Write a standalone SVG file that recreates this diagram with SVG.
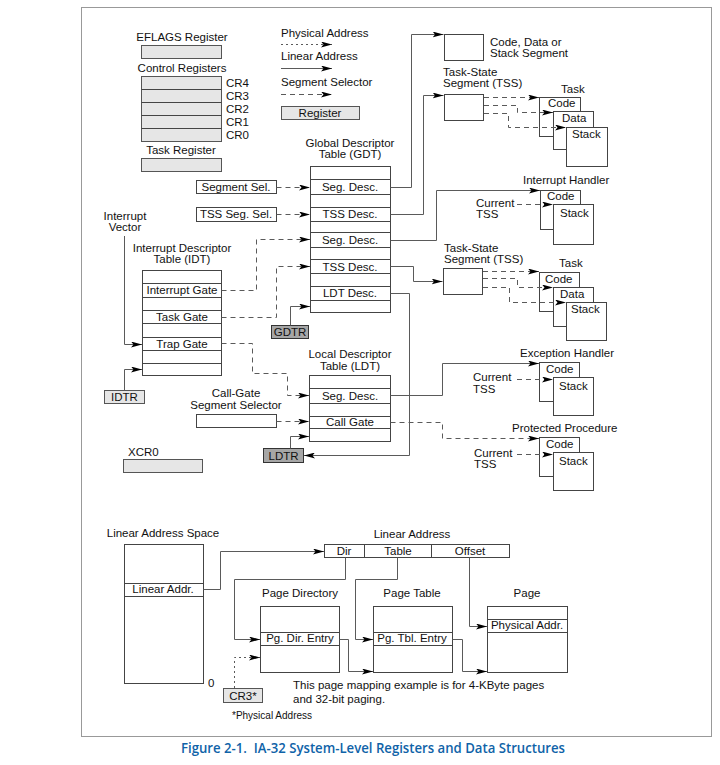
<svg xmlns="http://www.w3.org/2000/svg" width="720" height="765" viewBox="0 0 720 765">
<defs>
<style>
text{font-family:"Liberation Sans",Arial,sans-serif;font-size:11.5px;fill:#111}
.m{text-anchor:middle}
.sm{font-size:10px}
.box{fill:#fff;stroke:#444;stroke-width:1}
.reg{fill:#e6e6e6;stroke:#555;stroke-width:1}
.dreg{fill:#a6a6a6;stroke:#333;stroke-width:1}
.row{fill:none;stroke:#444;stroke-width:1}
.ln{fill:none;stroke:#5a5a5a;stroke-width:1;marker-end:url(#ah)}
.nl{fill:none;stroke:#5a5a5a;stroke-width:1}
.ds{stroke-dasharray:5 4}
.dt{stroke-dasharray:2 3}
.cap{font-family:"Open Sans","Noto Sans",sans-serif;font-size:14px;font-weight:600;fill:#0f63a8}
</style>
<marker id="ah" viewBox="0 0 11 6" refX="11" refY="3" markerWidth="11" markerHeight="6" orient="auto" markerUnits="userSpaceOnUse">
<path d="M0,0 L11,3 L0,6 L2.5,3 z" fill="#000"/>
</marker>
</defs>
<rect x="81.5" y="7.5" width="630" height="729" fill="#fff" stroke="#999" stroke-width="1"/>

<g id="eflags">
<text x="182" y="41" class="m">EFLAGS Register</text>
<rect x="141.5" y="45.5" width="80" height="13" class="reg"/>
</g>
<g id="control-registers">
<text x="182" y="72" class="m">Control Registers</text>
<rect x="141.5" y="76.5" width="80" height="65" class="reg"/>
<path d="M141.5,89.5H221.5M141.5,102.5H221.5M141.5,115.5H221.5M141.5,128.5H221.5" class="row" stroke="#555"/>
<text x="226" y="87">CR4</text>
<text x="226" y="100">CR3</text>
<text x="226" y="113">CR2</text>
<text x="226" y="126">CR1</text>
<text x="226" y="139">CR0</text>
</g>
<g id="task-register">
<text x="181" y="154" class="m">Task Register</text>
<rect x="141.5" y="158.5" width="80" height="13" class="reg"/>
</g>

<g id="legend">
<text x="281" y="37">Physical Address</text>
<text x="281" y="60">Linear Address</text>
<text x="281" y="86">Segment Selector</text>
<rect x="281.5" y="106.5" width="78" height="13" class="reg"/>
<text x="320" y="117" class="m">Register</text>
</g>

<g id="code-data-stack-segment">
<rect x="444.5" y="34.5" width="39" height="26" class="box"/>
<text x="490" y="46">Code, Data or</text>
<text x="490" y="57">Stack Segment</text>
</g>

<g id="tss1" transform="translate(444,94)">
<text x="-1" y="-18">Task-State</text>
<text x="-1" y="-7">Segment (TSS)</text>
<rect x="0.5" y="0.5" width="39" height="26" class="box"/>
</g>
<g id="task1" transform="translate(444,94)">
<text x="117" y="-1">Task</text>
<rect x="95.5" y="3.5" width="41" height="39" class="box"/>
<text x="104" y="13">Code</text>
<rect x="109.5" y="17.5" width="40" height="38" class="box"/>
<text x="118" y="28">Data</text>
<rect x="122.5" y="33.5" width="41" height="39" class="box"/>
<text x="128" y="44">Stack</text>
</g>

<g id="gdt">
<text x="350" y="147" class="m">Global Descriptor</text>
<text x="350" y="158" class="m">Table (GDT)</text>
<rect x="310.5" y="166.5" width="80" height="146" class="box"/>
<path d="M310.5,179.5H390.5M310.5,194.5H390.5M310.5,207.5H390.5M310.5,221.5H390.5M310.5,232.5H390.5M310.5,247.5H390.5M310.5,259.5H390.5M310.5,273.5H390.5M310.5,286.5H390.5M310.5,300.5H390.5" class="row"/>
<text x="350" y="191" class="m">Seg. Desc.</text>
<text x="350" y="218" class="m">TSS Desc.</text>
<text x="350" y="244" class="m">Seg. Desc.</text>
<text x="350" y="270.5" class="m">TSS Desc.</text>
<text x="350" y="297" class="m">LDT Desc.</text>
</g>

<g id="segment-sel">
<rect x="196.5" y="180.5" width="80" height="13" class="box"/>
<text x="236" y="191" class="m">Segment Sel.</text>
</g>
<g id="tss-seg-sel">
<rect x="196.5" y="207.5" width="80" height="14" class="box"/>
<text x="236" y="218" class="m">TSS Seg. Sel.</text>
</g>

<g id="interrupt-vector">
<text x="125" y="220" class="m">Interrupt</text>
<text x="125" y="231" class="m">Vector</text>
</g>

<g id="idt">
<text x="182" y="252" class="m">Interrupt Descriptor</text>
<text x="182" y="263" class="m">Table (IDT)</text>
<rect x="142.5" y="270.5" width="79" height="105" class="box"/>
<path d="M142.5,283.5H221.5M142.5,297.5H221.5M142.5,310.5H221.5M142.5,323.5H221.5M142.5,337.5H221.5M142.5,350.5H221.5M142.5,363.5H221.5" class="row"/>
<text x="182" y="294" class="m">Interrupt Gate</text>
<text x="182" y="321" class="m">Task Gate</text>
<text x="182" y="348" class="m">Trap Gate</text>
</g>

<g id="idtr">
<rect x="104.5" y="390.5" width="40" height="13" class="reg" stroke="#333"/>
<text x="124.5" y="401" class="m">IDTR</text>
</g>
<g id="gdtr">
<rect x="271.5" y="325.5" width="37" height="13" class="dreg"/>
<text x="290" y="336" class="m">GDTR</text>
</g>

<g id="ldt">
<text x="350" y="358" class="m">Local Descriptor</text>
<text x="350" y="370" class="m">Table (LDT)</text>
<rect x="309.5" y="375.5" width="81" height="66" class="box"/>
<path d="M309.5,388.5H390.5M309.5,403.5H390.5M309.5,416.5H390.5M309.5,428.5H390.5" class="row"/>
<text x="350" y="400" class="m">Seg. Desc.</text>
<text x="350" y="426" class="m">Call Gate</text>
</g>

<g id="call-gate-selector">
<text x="236" y="397" class="m">Call-Gate</text>
<text x="236" y="409" class="m">Segment Selector</text>
<rect x="196.5" y="414.5" width="80" height="13" class="box"/>
</g>

<g id="ldtr">
<rect x="263.5" y="448.5" width="40" height="14" class="dreg"/>
<text x="283.5" y="459.5" class="m">LDTR</text>
</g>

<g id="xcr0">
<text x="128" y="456">XCR0</text>
<rect x="123.5" y="459.5" width="79" height="13" class="reg"/>
</g>

<g id="interrupt-handler">
<text x="523" y="184">Interrupt Handler</text>
<rect x="540.5" y="190.5" width="40" height="39" class="box"/>
<text x="547" y="200">Code</text>
<rect x="553.5" y="204.5" width="40" height="40" class="box"/>
<text x="560" y="217">Stack</text>
<text x="476" y="207">Current</text>
<text x="476" y="218">TSS</text>
</g>

<g id="tss2" transform="translate(443,268)">
<text x="1" y="-16">Task-State</text>
<text x="1" y="-5">Segment (TSS)</text>
<rect x="0.5" y="0.5" width="39" height="26" class="box"/>
</g>
<g id="task2" transform="translate(443,268)">
<text x="116" y="-1">Task</text>
<rect x="96.5" y="4.5" width="40" height="39" class="box"/>
<text x="102" y="15">Code</text>
<rect x="110.5" y="19.5" width="40" height="39" class="box"/>
<text x="117" y="30">Data</text>
<rect x="123.5" y="34.5" width="40" height="38" class="box"/>
<text x="128" y="45">Stack</text>
</g>

<g id="exception-handler">
<text x="520" y="357">Exception Handler</text>
<rect x="539.5" y="362.5" width="40" height="39" class="box"/>
<text x="546" y="373">Code</text>
<rect x="553.5" y="377.5" width="40" height="38" class="box"/>
<text x="559" y="390">Stack</text>
<text x="473" y="381">Current</text>
<text x="473" y="393">TSS</text>
</g>

<g id="protected-procedure">
<text x="512" y="432">Protected Procedure</text>
<rect x="539.5" y="437.5" width="40" height="39" class="box"/>
<text x="546" y="448">Code</text>
<rect x="553.5" y="452.5" width="40" height="38" class="box"/>
<text x="559" y="465">Stack</text>
<text x="474" y="457">Current</text>
<text x="474" y="468">TSS</text>
</g>

<g id="linear-address-space">
<text x="163" y="537" class="m">Linear Address Space</text>
<rect x="124.5" y="544.5" width="79" height="139" class="box"/>
<path d="M124.5,583.5H203.5M124.5,596.5H203.5" class="row"/>
<text x="163" y="593" class="m">Linear Addr.</text>
<text x="208" y="687">0</text>
</g>

<g id="linear-address">
<text x="412" y="538" class="m">Linear Address</text>
<rect x="324.5" y="544.5" width="185" height="13" class="box"/>
<path d="M364.5,544.5V557.5M431.5,544.5V557.5" class="row"/>
<text x="344" y="555" class="m">Dir</text>
<text x="398" y="555" class="m">Table</text>
<text x="470" y="555" class="m">Offset</text>
</g>

<g id="page-directory">
<text x="300" y="597" class="m">Page Directory</text>
<rect x="260.5" y="606.5" width="79" height="66" class="box"/>
<path d="M260.5,632.5H339.5M260.5,645.5H339.5" class="row"/>
<text x="300" y="642" class="m">Pg. Dir. Entry</text>
</g>

<g id="page-table">
<text x="412" y="597" class="m">Page Table</text>
<rect x="373.5" y="606.5" width="79" height="66" class="box"/>
<path d="M373.5,632.5H452.5M373.5,645.5H452.5" class="row"/>
<text x="412" y="642" class="m">Pg. Tbl. Entry</text>
</g>

<g id="page">
<text x="527" y="597" class="m">Page</text>
<rect x="487.5" y="606.5" width="80" height="66" class="box"/>
<path d="M487.5,619.5H567.5M487.5,632.5H567.5" class="row"/>
<text x="527" y="629" class="m">Physical Addr.</text>
</g>

<g id="cr3">
<rect x="223.5" y="688.5" width="39" height="14" class="reg" stroke="#333"/>
<text x="243" y="700" class="m">CR3*</text>
</g>

<g id="notes">
<text x="293" y="689">This page mapping example is for 4-KByte pages</text>
<text x="293" y="703">and 32-bit paging.</text>
<text x="232" y="719" class="sm">*Physical Address</text>
</g>

<g id="connectors">
<path d="M281,44.5H332" class="ln dt"/>
<path d="M281,68.5H332" class="ln"/>
<path d="M281,94.5H332" class="ln ds"/>
<path d="M276.5,187.5H310" class="ln ds"/>
<path d="M276.5,214.5H310" class="ln ds"/>
<path d="M390.5,187.5H411.5V34.5H443.5" class="ln"/>
<path d="M390.5,214.5H423.5V95.5H443.5" class="ln"/>
<path d="M390.5,240.5H436.5V190.5H540" class="ln"/>
<path d="M390.5,266.5H413.5V281.5H442.5" class="ln"/>
<path d="M390.5,293.5H409.5V455.5H304" class="ln"/>
<path d="M290.5,325.5V306.5H310" class="ln"/>
<path d="M124.5,236V344.5H142" class="ln"/>
<path d="M124.5,390.5V369.5H142" class="ln"/>
<path d="M221.5,290.5H256.5V239.5H310" class="ln ds"/>
<path d="M221.5,317.5H276.5V266.5H310" class="ln ds"/>
<path d="M221.5,343.5H252.5V373.5H287.5V395.5H309" class="ln ds"/>
<path d="M276.5,421.5H309" class="ln ds"/>
<path d="M290.5,448.5V436.5H309" class="ln"/>
<path d="M390.5,395.5H442.5V363.5H539" class="ln"/>
<path d="M390.5,422.5H442.5V438.5H539" class="ln ds"/>
<path d="M517,204.5H553" class="ln ds"/>
<path d="M517,379.5H553" class="ln ds"/>
<path d="M517,454.5H553" class="ln ds"/>
<g transform="translate(444,94)">
<path d="M40,3.5H95" class="ln ds"/>
<path d="M40,11.5H73.5V18.5H109" class="ln ds"/>
<path d="M40,19.5H64.5V33.5H122" class="ln ds"/>
</g>
<g transform="translate(443,268)">
<path d="M40,3.5H96" class="ln ds"/>
<path d="M40,10.5H74.5V19.5H110" class="ln ds"/>
<path d="M40,19.5H66.5V34.5H123" class="ln ds"/>
</g>
<path d="M203.5,589.5H220.5V551.5H324" class="ln"/>
<path d="M345.5,557.5V579.5H234.5V639.5H260" class="ln"/>
<path d="M397.5,557.5V579.5H355.5V639.5H373" class="ln"/>
<path d="M469.5,557.5V626.5H487" class="ln"/>
<path d="M339.5,639.5H348.5V671.5H373" class="ln"/>
<path d="M452.5,639.5H462.5V671.5H487" class="ln"/>
<path d="M234.5,688V657.5H260" class="ln dt"/>
</g>

<text x="373" y="753" class="cap m" textLength="384" lengthAdjust="spacingAndGlyphs">Figure 2-1.&#160; IA-32 System-Level Registers and Data Structures</text>
</svg>
